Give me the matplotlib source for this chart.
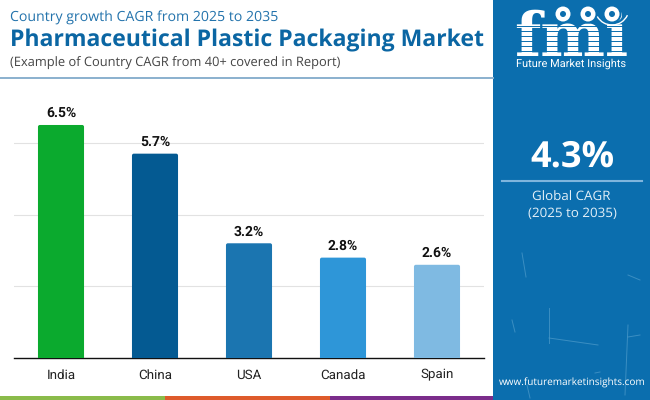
import matplotlib
matplotlib.use('Agg')
import matplotlib.pyplot as plt
from matplotlib.patches import Rectangle, FancyBboxPatch, Circle, Arc

plt.rcParams['font.family'] = ['Roboto', 'DejaVu Sans']
plt.rcParams['text.hinting'] = 'none'

countries = ['India', 'China', 'USA', 'Canada', 'Spain']
cagr = [6.5, 5.7, 3.2, 2.8, 2.6]
bar_colors = ['#0BAA2E', '#045A92', '#1B75B0', '#2E96D8', '#7FBAE2']
grid_ticks = [2, 4, 6]

W, H = 650, 400
PANEL = '#0B6EAE'
fig = plt.figure(figsize=(6.5, 4), dpi=100, facecolor='white')

# full figure overlay in pixel coords
bg = fig.add_axes([0, 0, 1, 1])
bg.set_xlim(0, W)
bg.set_ylim(H, 0)
bg.axis('off')

# right panel
bg.add_patch(Rectangle((493, 0), 157, 400, color=PANEL, lw=0))
bg.plot([0, 493], [78, 78], color='#8AB0CE', lw=1.4)
bg.plot([502, 642], [181, 181], color='#7FB5DD', lw=1.5)

# faint scratches in the panel
scratches = [((522, 526), (253, 277)), ((628, 625), (325, 395)), ((549, 549), (308, 343)),
             ((549, 598), (338, 345)), ((628, 640), (337, 335)), ((628, 640), (275, 280)),
             ((512, 515), (320, 332)), ((595, 600), (373, 372)), ((527, 530), (385, 398))]
for xs, ys in scratches:
    bg.plot(xs, ys, color='#4F9CCB', lw=0.7, alpha=0.7)

# bottom strip
bg.add_patch(Rectangle((0, 396), 165, 4, color='#8ABB4A', lw=0))
bg.add_patch(Rectangle((165, 396), 165, 4, color='#DE5B2B', lw=0))
bg.add_patch(Rectangle((330, 396), 163, 4, color='#7B2D8B', lw=0))

# titles
bg.text(10, 18, 'Country growth CAGR from 2025 to 2035', fontsize=10.2,
        color='#2373AC', family='Open Sans', va='center')
bg.text(10, 40, 'Pharmaceutical Plastic Packaging Market', fontsize=16.6,
        color='#0B66A3', fontweight='bold', family='Open Sans', va='center')
bg.text(10, 63, '(Example of Country CAGR from 40+ covered in Report)', fontsize=9.25,
        color='#444444', family='Open Sans', va='center')

# logo, the letters cut by stripes with the three globes on top
bg.text(571, 56, 'fmi', fontsize=44, color='white', fontweight='bold',
        family='DejaVu Serif', ha='center', va='baseline', zorder=3)
for y in range(26, 56, 5):
    bg.plot([512, 630], [y, y], color=PANEL, lw=0.7, zorder=4)
for cx in [563, 588, 612]:
    bg.add_patch(Circle((cx, 14), 9.5, color=PANEL, lw=0, zorder=5))
    bg.add_patch(Circle((cx, 14), 7.5, color='white', lw=0, zorder=6))
    bg.add_patch(Circle((cx, 14), 3, color=PANEL, lw=0, zorder=7))
bg.add_patch(Arc((612, 8), 34, 34, theta1=25, theta2=150, color='white', lw=1, zorder=6))
bg.text(571, 64, 'Future Market Insights', fontsize=7.9, color='white', ha='center',
        va='center', zorder=8)

# KPI
bg.text(572, 157, '4.3%', fontsize=26, color='white', fontweight='bold',
        family='Open Sans', ha='center', va='center')
bg.text(571, 197, 'Global CAGR', fontsize=9.6, color='#E4F0F8', family='Open Sans',
        ha='center', va='center')
bg.text(572, 214, '(2025 to 2035)', fontsize=9.6, color='#E4F0F8', family='Open Sans',
        ha='center', va='center')
bg.text(572, 383, 'www.futuremarketinsights.com', fontsize=7.2, color='white',
        family='Open Sans', ha='center', va='center')

# chart
x0, y0, x1, y1 = 14, 100, 484, 358
ax = fig.add_axes([x0 / W, 1 - y1 / H, (x1 - x0) / W, (y1 - y0) / H])
ax.patch.set_alpha(0)
bars = ax.bar(countries, cagr, width=0.49, color=bar_colors, zorder=3)
ax.set_xlim(-0.5, 4.5)
ax.set_ylim(0, 258 / 35.85)

# swap the bars for ones with slightly rounded tops, bottoms clipped at the axis
for r, c in zip(bars, bar_colors):
    r.set_visible(False)
    ax.add_patch(FancyBboxPatch((r.get_x(), -0.3), r.get_width(), r.get_height() + 0.3,
                                boxstyle='round,pad=0,rounding_size=0.02',
                                mutation_aspect=94 / 35.85, color=c, lw=0, zorder=3))

ax.set_yticks(grid_ticks)
ax.set_yticklabels([])
ax.tick_params(axis='y', length=0)
ax.tick_params(axis='x', length=0, pad=15, labelsize=9.6, labelcolor='#222222')
for lab in ax.get_xticklabels():
    lab.set_va('baseline')
ax.grid(axis='y', color='#E2E2E2', lw=0.8, zorder=0)
for s in ['top', 'left', 'right']:
    ax.spines[s].set_visible(False)
ax.spines['bottom'].set_color('#111111')
ax.spines['bottom'].set_linewidth(1)
for i, v in enumerate(cagr):
    ax.annotate(f'{v}%', (i, v), xytext=(0, 3.5), textcoords='offset points', ha='center',
                va='bottom', fontsize=10, fontweight='bold', color='#111111', zorder=4)

fig.savefig('out.png', dpi=100)
